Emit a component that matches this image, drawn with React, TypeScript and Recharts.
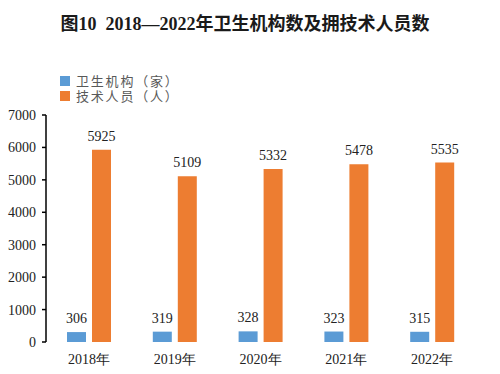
import React from 'react';
import { BarChart, Bar, XAxis, YAxis, LabelList } from 'recharts';

const years = ['2018年', '2019年', '2020年', '2021年', '2022年'];
const institutions = [306, 319, 328, 323, 315];
const personnel = [5925, 5109, 5332, 5478, 5535];
const yTicks = [0, 1000, 2000, 3000, 4000, 5000, 6000, 7000];
const boundaryTicks = [0, 1, 2, 3, 4, 5];
const seriesNames = ['卫生机构（家）', '技术人员（人）'];
const seriesColors = ['#5B9BD5', '#ED7D31'];

const data = years.map((y, i) => ({ year: y, idx: i + 0.5, a: institutions[i], b: personnel[i] }));

const serif = '"Liberation Serif", "Times New Roman", serif';

export default function App() {
  return (
    <div style={{ position: 'absolute', left: 0, top: 0, width: 500, height: 374, background: '#fff' }}>
      <div
        style={{
          position: 'absolute',
          left: 0,
          width: 490,
          top: 9,
          textAlign: 'center',
          fontFamily: '"Liberation Serif", "Noto Sans CJK SC", serif',
          fontWeight: 'bold',
          fontSize: 18,
          color: '#1a1a1a',
          zIndex: 2,
          whiteSpace: 'pre',
        }}
      >
        {'图10  2018—2022年卫生机构数及拥技术人员数'}
      </div>
      <div style={{ position: 'absolute', left: 60, top: 74, zIndex: 2, display: 'flex', flexDirection: 'column', gap: 2 }}>
        {seriesNames.map((n, i) => (
          <div key={n} style={{ display: 'flex', alignItems: 'center', height: 13 }}>
            <span style={{ display: 'block', width: 10, height: 10, background: seriesColors[i], marginRight: 6 }} />
            <span style={{ display: 'block', height: 13, overflow: 'visible', whiteSpace: 'pre', fontFamily: '"Noto Sans CJK SC", sans-serif', fontSize: 13, lineHeight: '13px', color: '#595959', letterSpacing: 1.8 }}>{n}</span>
          </div>
        ))}
      </div>
      <BarChart
        width={500}
        height={374}
        data={data}
        margin={{ top: 115, right: 25, bottom: 0, left: 0 }}
        barGap={6}
      >
        <XAxis
          xAxisId="bound"
          type="number"
          dataKey="idx"
          domain={[0, 5]}
          ticks={boundaryTicks}
          height={0}
          tick={false}
          tickSize={-5}
          axisLine={{ stroke: '#000', strokeWidth: 1.5 }}
          tickLine={{ stroke: '#000', strokeWidth: 1.5 }}
          allowDataOverflow
        />
        <XAxis
          dataKey="year"
          height={32}
          axisLine={false}
          tickLine={false}
          tickSize={0}
          tickMargin={12}
          interval={0}
          tick={{ fill: '#222', fontSize: 14, fontFamily: serif }}
        />
        <YAxis
          width={46}
          domain={[0, 7000]}
          ticks={yTicks}
          interval={0}
          axisLine={{ stroke: '#000', strokeWidth: 1.5 }}
          tickLine={{ stroke: '#000', strokeWidth: 1.5 }}
          tickSize={4}
          tickMargin={6}
          tick={{ fill: '#222', fontSize: 14, fontFamily: serif }}
        />
        <Bar dataKey="a" name={seriesNames[0]} fill={seriesColors[0]} barSize={19} isAnimationActive={false}>
          <LabelList dataKey="a" position="top" offset={9} style={{ fill: '#222', fontSize: 14, fontFamily: serif }} />
        </Bar>
        <Bar dataKey="b" name={seriesNames[1]} fill={seriesColors[1]} barSize={19} isAnimationActive={false}>
          <LabelList dataKey="b" position="top" offset={9} style={{ fill: '#222', fontSize: 14, fontFamily: serif }} />
        </Bar>
      </BarChart>
    </div>
  );
}
